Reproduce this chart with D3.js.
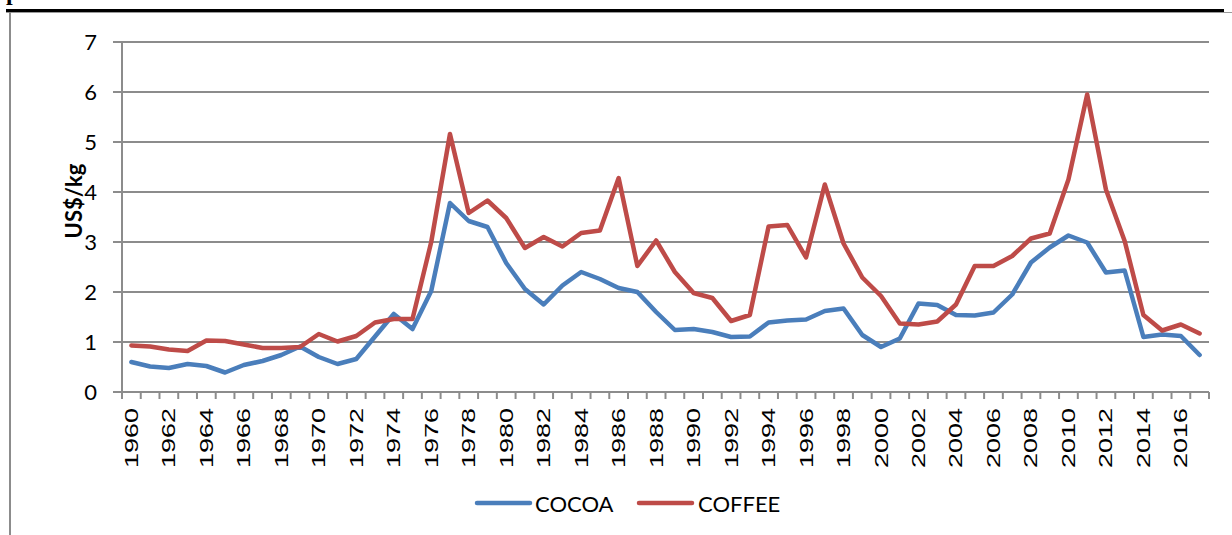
<!DOCTYPE html>
<html>
<head>
<meta charset="utf-8">
<script src="https://cdn.jsdelivr.net/npm/d3@7"></script>
<style>
  html, body { margin: 0; padding: 0; background: #fff; }
  svg { display: block; }
</style>
</head>
<body>
<svg id="chart" width="1232" height="535"></svg>
<script>
// ---- data ----
const years = d3.range(1960, 2018); // 1960..2017
const cocoa = [
  0.60, 0.51, 0.48, 0.56, 0.52, 0.39, 0.54, 0.62, 0.74, 0.91,
  0.70, 0.56, 0.66, 1.11, 1.56, 1.26, 2.02, 3.78, 3.42, 3.30,
  2.58, 2.06, 1.75, 2.13, 2.40, 2.26, 2.08, 2.00, 1.60, 1.24,
  1.26, 1.20, 1.10, 1.11, 1.39, 1.43, 1.45, 1.62, 1.67, 1.14,
  0.90, 1.07, 1.77, 1.74, 1.54, 1.53, 1.59, 1.95, 2.59, 2.89,
  3.13, 2.99, 2.39, 2.43, 1.10, 1.15, 1.12, 0.74
];
const coffee = [
  0.93, 0.91, 0.85, 0.82, 1.03, 1.02, 0.95, 0.88, 0.88, 0.90,
  1.16, 1.01, 1.12, 1.39, 1.46, 1.46, 3.00, 5.16, 3.58, 3.83,
  3.48, 2.88, 3.10, 2.91, 3.18, 3.23, 4.28, 2.52, 3.03, 2.40,
  1.98, 1.88, 1.42, 1.54, 3.31, 3.34, 2.69, 4.15, 2.97, 2.29,
  1.92, 1.37, 1.35, 1.41, 1.75, 2.52, 2.52, 2.72, 3.07, 3.17,
  4.25, 5.95, 4.05, 3.02, 1.54, 1.23, 1.35, 1.17
];
const yTicks = [0, 1, 2, 3, 4, 5, 6, 7];
const xTickLabels = years.filter(y => y % 2 === 0).map(String);
const seriesNames = ["COCOA", "COFFEE"];
const seriesColors = ["#4a7ebb", "#be4b48"];
const yLabel = "US$/kg";

// ---- layout ----
const svg = d3.select("#chart");
const L = 122, R = 1209, T = 42, B = 392;

const x = d3.scaleBand().domain(years).range([L, R]).paddingInner(0).paddingOuter(0);
const y = d3.scaleLinear().domain([0, 7]).range([B, T]);
const cx = yr => x(yr) + x.bandwidth() / 2;

// ---- page frame ----
svg.append("text").attr("x", 6).attr("y", 0)
  .attr("font-family", "Liberation Serif").attr("font-weight", "bold")
  .attr("font-size", 24).attr("fill", "#000").text("p");
svg.append("rect").attr("x", 6).attr("y", 9).attr("width", 1218).attr("height", 3).attr("fill", "#000");
svg.append("line").attr("x1", 6).attr("x2", 1232).attr("y1", 12.5).attr("y2", 12.5)
  .attr("stroke", "#9a9a9a").attr("stroke-width", 1);
svg.append("line").attr("x1", 10).attr("x2", 10).attr("y1", 12).attr("y2", 535)
  .attr("stroke", "#8c8c8c").attr("stroke-width", 2);

// ---- gridlines ----
const gridColor = "#8c8c8c";
svg.append("g").selectAll("line").data(yTicks.filter(d => d > 0)).join("line")
  .attr("x1", L - 9).attr("x2", R)
  .attr("y1", d => y(d)).attr("y2", d => y(d))
  .attr("stroke", gridColor).attr("stroke-width", 2);

// y axis line + ticks
svg.append("line").attr("x1", L).attr("x2", L).attr("y1", T).attr("y2", B)
  .attr("stroke", gridColor).attr("stroke-width", 2);
svg.append("line").attr("x1", L - 9).attr("x2", L).attr("y1", B).attr("y2", B)
  .attr("stroke", gridColor).attr("stroke-width", 2);

// y tick labels
svg.append("g").selectAll("text").data(yTicks).join("text")
  .attr("x", 97).attr("y", d => y(d))
  .attr("dy", "0.36em")
  .attr("text-anchor", "end")
  .attr("font-family", "Lato, 'Open Sans', sans-serif")
  .attr("font-size", 22).attr("fill", "#000")
  .text(d => d);

// x axis line
svg.append("line").attr("x1", L).attr("x2", R).attr("y1", B).attr("y2", B)
  .attr("stroke", gridColor).attr("stroke-width", 2);
// x ticks at category boundaries
const bounds = years.map(yr => x(yr)).concat([R]);
svg.append("g").selectAll("line").data(bounds).join("line")
  .attr("x1", d => d).attr("x2", d => d).attr("y1", B).attr("y2", B + 7)
  .attr("stroke", gridColor).attr("stroke-width", 2);

// x tick labels
svg.append("g").selectAll("text").data(xTickLabels).join("text")
  .attr("transform", d => `translate(${cx(+d) + 6.5},408) rotate(-90) scale(1.5,1)`)
  .attr("text-anchor", "end")
  .attr("font-family", "'Liberation Sans', Arial, sans-serif")
  .attr("font-size", 18).attr("fill", "#000")
  .text(d => d);

// y label
svg.append("text")
  .attr("transform", "translate(82,201) rotate(-90)")
  .attr("text-anchor", "middle")
  .attr("font-family", "Lato, 'Open Sans', sans-serif")
  .attr("font-weight", "bold").attr("font-size", 22).attr("fill", "#000")
  .text(yLabel);

// ---- lines ----
const line = d3.line().x((d, i) => cx(years[i])).y(d => y(d));
[cocoa, coffee].forEach((s, i) => {
  svg.append("path").datum(s)
    .attr("d", line)
    .attr("fill", "none")
    .attr("stroke", seriesColors[i])
    .attr("stroke-width", 4.5)
    .attr("stroke-linejoin", "round")
    .attr("stroke-linecap", "round");
});

// ---- legend ----
const legendItems = [
  { name: seriesNames[0], color: seriesColors[0], x1: 477, x2: 530, tx: 535 },
  { name: seriesNames[1], color: seriesColors[1], x1: 639, x2: 692, tx: 698 }
];
const lg = svg.append("g");
legendItems.forEach(d => {
  lg.append("line").attr("x1", d.x1).attr("x2", d.x2).attr("y1", 503).attr("y2", 503)
    .attr("stroke", d.color).attr("stroke-width", 4.5).attr("stroke-linecap", "round");
  lg.append("text").attr("x", d.tx).attr("y", 512)
    .attr("font-family", "Lato, 'Open Sans', sans-serif")
    .attr("font-size", 22).attr("fill", "#000")
    .text(d.name);
});
</script>
</body>
</html>
